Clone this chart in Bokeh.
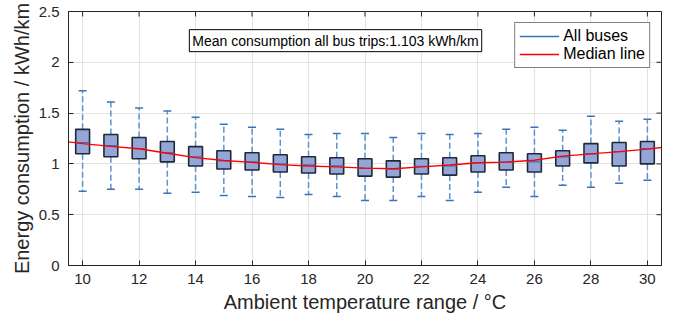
import math
from bokeh.plotting import figure
from bokeh.models import (Range1d, FixedTicker, Legend, LegendItem,
                          Label, ColumnDataSource)
from bokeh.embed import file_html
from bokeh.resources import INLINE

# ---------------- data ----------------
temps = [10, 11, 12, 13, 14, 15, 16, 17, 18, 19, 20, 21, 22, 23, 24, 25, 26, 27, 28, 29, 30]
upper = [1.72, 1.61, 1.55, 1.52, 1.46, 1.39, 1.36, 1.34, 1.29, 1.30, 1.30,
         1.26, 1.30, 1.29, 1.30, 1.34, 1.36, 1.33, 1.47, 1.42, 1.44]
q3 = [1.34, 1.29, 1.26, 1.22, 1.17, 1.13, 1.11, 1.09, 1.07, 1.06, 1.05,
      1.03, 1.05, 1.06, 1.08, 1.11, 1.10, 1.13, 1.20, 1.21, 1.22]
med = [1.21, 1.18, 1.15, 1.11, 1.07, 1.03, 1.02, 1.00, 0.99, 0.98, 0.955,
       0.95, 0.975, 0.98, 1.01, 1.02, 1.02, 1.07, 1.10, 1.12, 1.15]
q1 = [1.10, 1.07, 1.05, 1.02, 0.98, 0.95, 0.94, 0.92, 0.91, 0.90, 0.88,
      0.87, 0.90, 0.89, 0.92, 0.94, 0.92, 0.98, 1.01, 0.98, 1.00]
lower = [0.73, 0.75, 0.75, 0.71, 0.72, 0.69, 0.68, 0.67, 0.70, 0.68, 0.64,
         0.64, 0.68, 0.64, 0.72, 0.77, 0.68, 0.79, 0.77, 0.81, 0.84]

median_line_x = [9.5, 10, 11, 12, 13, 14, 15, 16, 17, 18, 19, 20, 21, 22, 23,
                 24, 25, 26, 27, 28, 29, 30, 30.5]
median_line_y = [1.217, 1.200, 1.173, 1.149, 1.105, 1.062, 1.033, 1.015, 0.993,
                 0.980, 0.971, 0.958, 0.952, 0.971, 0.989, 1.011, 1.017, 1.036,
                 1.077, 1.099, 1.121, 1.145, 1.161]

x_ticks = [10, 12, 14, 16, 18, 20, 22, 24, 26, 28, 30]
y_ticks = [0, 0.5, 1, 1.5, 2, 2.5]
mean_text = "Mean consumption all bus trips:1.103 kWh/km"

X_START, X_END = 9.5, 30.5
Y_START, Y_END = 0, 2.5
BOX_W = 0.49

FONT = "Liberation Sans"
TXT = "#262626"
BLUE = "#3373C4"

p = figure(width=662, height=315, output_backend="svg", toolbar_location=None,
           x_range=Range1d(X_START, X_END), y_range=Range1d(Y_START, Y_END),
           min_border_left=68, min_border_right=1, min_border_top=11,
           min_border_bottom=10)
p.outline_line_color = TXT
p.outline_line_width = 1
p.background_fill_color = "white"

# axes
p.xaxis.ticker = FixedTicker(ticks=x_ticks)
p.yaxis.ticker = FixedTicker(ticks=y_ticks)
for ax in list(p.xaxis) + list(p.yaxis):
    ax.major_tick_in = 5
    ax.major_tick_out = 0
    ax.minor_tick_in = 0
    ax.minor_tick_out = 0
    ax.axis_line_color = TXT
    ax.major_tick_line_color = TXT
    ax.major_label_text_font = FONT
    ax.major_label_text_font_size = "15px"
    ax.major_label_text_color = TXT
    ax.axis_label_text_font = FONT
    ax.axis_label_text_font_size = "20px"
    ax.axis_label_text_font_style = "normal"
    ax.axis_label_text_color = TXT
p.xaxis.axis_label = "Ambient temperature range / °C"
p.yaxis.axis_label = "Energy consumption / kWh/km"
p.xaxis.major_label_standoff = 8
p.xaxis.axis_label_standoff = 4
p.yaxis.major_label_standoff = 9
p.yaxis.axis_label_standoff = 3

p.xgrid.ticker = FixedTicker(ticks=x_ticks)
p.ygrid.ticker = FixedTicker(ticks=y_ticks)
p.xgrid.grid_line_color = "#E3E3E3"
p.ygrid.grid_line_color = "#E3E3E3"

# inward ticks on the top and right frame edges (clipped to the frame)
p.scatter(x=x_ticks, y=[Y_END] * len(x_ticks), marker="dash", angle=math.pi / 2,
          size=10, line_color=TXT, line_width=1)
p.scatter(x=[X_END] * len(y_ticks), y=y_ticks, marker="dash",
          size=10, line_color=TXT, line_width=1)

src = ColumnDataSource(dict(t=temps, upper=upper, q3=q3, med=med, q1=q1, lower=lower,
                            left=[t - BOX_W / 2 for t in temps],
                            right=[t + BOX_W / 2 for t in temps]))

# whiskers (dashed)
p.segment(x0="t", y0="q3", x1="t", y1="upper", source=src, line_color="#5B93D0",
          line_width=1.5, line_dash="6 3")
p.segment(x0="t", y0="q1", x1="t", y1="lower", source=src, line_color="#5B93D0",
          line_width=1.5, line_dash="6 3")
# caps
p.scatter(x="t", y="upper", source=src, marker="dash", size=8, line_color="#3A74BA",
          line_width=1.5)
p.scatter(x="t", y="lower", source=src, marker="dash", size=8, line_color="#3A74BA",
          line_width=1.5)
# boxes
p.vbar(x="t", top="q3", bottom="q1", width=BOX_W, source=src, fill_color="#95A5D8",
       line_color="#1E2A38", line_width=1.6)
# medians inside boxes (blue) - also used for the "All buses" legend entry
blue = p.segment(x0="left", y0="med", x1="right", y1="med", source=src,
                 line_color=BLUE, line_width=1.3)

# red median line
red = p.line(x=median_line_x, y=median_line_y, line_color="#FF0000", line_width=1.4)

legend = Legend(items=[LegendItem(label="All buses", renderers=[blue]),
                       LegendItem(label="Median line", renderers=[red])],
                location="top_right", margin=11, padding=4, spacing=0,
                label_text_font=FONT, label_text_font_size="16px",
                label_text_color="#000000", glyph_width=40, glyph_height=18,
                label_height=18, label_standoff=4,
                border_line_color="#000000", border_line_width=1,
                background_fill_color="white", background_fill_alpha=1)
p.add_layout(legend)

label = Label(x=13.78, y=2.213, text=mean_text, text_font=FONT, text_font_size="14px",
              text_color="#000000", text_baseline="middle", text_align="left",
              border_line_color="#000000", border_line_width=1,
              background_fill_color="white", padding=3)
p.add_layout(label)

open("out.html", "w").write(file_html(p, INLINE))
